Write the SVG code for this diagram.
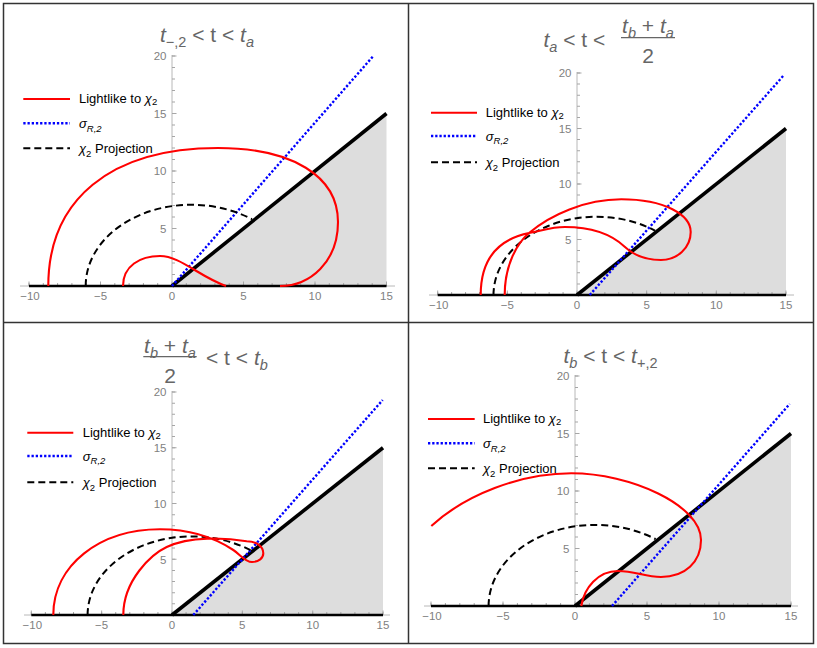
<svg xmlns="http://www.w3.org/2000/svg" width="817" height="648" viewBox="0 0 817 648">
<style>
.bg{fill:#fff}
.frame{fill:none;stroke:#333;stroke-width:1.5}
.shade{fill:#dddddd;stroke:none}
.axis{stroke:#b8b8b8;stroke-width:1;fill:none}
.tick{stroke:#a6a6a6;fill:none}
.bound{stroke:#000;stroke-width:3.6;fill:none}
.base{stroke:#000;stroke-width:2.5;fill:none}
.red{stroke:#ff0000;stroke-width:2.1;fill:none}
.blue{stroke:#0000ff;stroke-width:2.4;stroke-dasharray:2.3 1.9;fill:none}
.dash{stroke:#000;stroke-width:2;stroke-dasharray:7 4;fill:none}
.tl{font-family:"Liberation Sans",Arial,sans-serif;font-size:11.5px;fill:#7f7f7f}
.title{font-family:"Liberation Sans",Arial,sans-serif;font-size:21px;fill:#666}
.leg{font-family:"Liberation Sans",Arial,sans-serif;font-size:13px;fill:#000}
.it{font-style:italic}
.sub{font-size:14.5px}
.lsub{font-size:9.5px}
.bar{stroke:#666;stroke-width:1.3}
</style>
<rect class="bg" x="0" y="0" width="817" height="648"/>

<g id="panel1">
  <path class="shade" d="M172 286 L386.5 286 L386.5 113.5 Z"/>
  <line class="axis" x1="20" y1="286" x2="395" y2="286"/>
  <line class="axis" x1="172" y1="286" x2="172" y2="55"/>
  <path class="tick" stroke-width="3" stroke-dasharray="1 13.3" d="M28.5 284.5 H387"/>
  <path class="tick" stroke-width="4.5" stroke-dasharray="1 70.5" d="M28.5 283.75 H387"/>
  <path class="tick" stroke-width="3" stroke-dasharray="1 10.5" d="M173.5 286.5 V55.5"/>
  <path class="tick" stroke-width="4.5" stroke-dasharray="1 56.5" d="M174.25 286.5 V55.5"/>
  <g class="tl" text-anchor="middle">
    <text x="30" y="299.5">−10</text><text x="100.5" y="299.5">−5</text><text x="172" y="299.5">0</text>
    <text x="243.5" y="299.5">5</text><text x="315" y="299.5">10</text><text x="386.5" y="299.5">15</text>
  </g>
  <g class="tl" text-anchor="end">
    <text x="166.5" y="232.8">5</text><text x="166.5" y="175.3">10</text><text x="166.5" y="117.8">15</text><text x="166.5" y="60.3">20</text>
  </g>
  <path class="base" d="M29 286 H386.5"/>
  <path class="bound" d="M172 286 L386.5 113.5"/>
  <path class="blue" d="M172 286 L372.7 56.7"/>
  <path class="dash" d="M85.7 286 A105.8 81 0 0 1 252 219.3"/>
  <path class="red" d="M48.3 286 C48.3 200 110 148 218 148 C292 148 338 176 338 222 C338 262 310 286 280 286"/>
  <path class="red" d="M123 286 C123 266 140 256 160 256 C180 256 200 277 226 286"/>
  <text class="title" x="207" y="42" text-anchor="middle"><tspan class="it">t</tspan><tspan class="sub" dy="5">−,2</tspan><tspan dy="-5"> &lt; t &lt; </tspan><tspan class="it">t</tspan><tspan class="sub it" dy="5">a</tspan></text>
  <g id="legend1">
    <line class="red" x1="23.3" y1="99" x2="70" y2="99"/>
    <line class="blue" x1="23.3" y1="123.3" x2="70" y2="123.3"/>
    <line class="dash" x1="23.3" y1="148.3" x2="70" y2="148.3"/>
    <text class="leg" x="79" y="103">Lightlike to <tspan class="it">χ</tspan><tspan class="lsub" dy="2">2</tspan></text>
    <text class="leg" x="79" y="128"><tspan class="it">σ</tspan><tspan class="lsub it" dy="3.5">R,2</tspan></text>
    <text class="leg" x="79" y="153"><tspan class="it">χ</tspan><tspan class="lsub" dy="3.5">2</tspan><tspan dy="-3.5"> Projection</tspan></text>
  </g>
</g>

<g id="panel2">
  <path class="shade" d="M577 295 L786 295 L786 128.5 Z"/>
  <line class="axis" x1="429" y1="295" x2="794" y2="295"/>
  <line class="axis" x1="577" y1="295" x2="577" y2="72"/>
  <path class="tick" stroke-width="3" stroke-dasharray="1 12.93" d="M437.2 293.5 H786.5"/>
  <path class="tick" stroke-width="4.5" stroke-dasharray="1 68.65" d="M437.2 292.75 H786.5"/>
  <path class="tick" stroke-width="3" stroke-dasharray="1 10.1" d="M578.5 295.5 V72.5"/>
  <path class="tick" stroke-width="4.5" stroke-dasharray="1 54.5" d="M579.25 295.5 V72.5"/>
  <g class="tl" text-anchor="middle">
    <text x="438.7" y="308.5">−10</text><text x="507.3" y="308.5">−5</text><text x="577" y="308.5">0</text>
    <text x="646.6" y="308.5">5</text><text x="716.3" y="308.5">10</text><text x="786" y="308.5">15</text>
  </g>
  <g class="tl" text-anchor="end">
    <text x="571.5" y="243.8">5</text><text x="571.5" y="188.3">10</text><text x="571.5" y="132.8">15</text><text x="571.5" y="77.3">20</text>
  </g>
  <path class="base" d="M437.7 295 H786"/>
  <path class="bound" d="M577 295 L786 128.5"/>
  <path class="blue" d="M589.7 295 L784 75"/>
  <path class="dash" d="M493.5 295 A103 78.3 0 0 1 655 230.6"/>
  <path class="red" d="M480.7 295 C480.7 262 495 240 529 233 C546 229.5 552 227 565 227 C590 227 610 233 624.7 246.7 C634 255.5 645 260 661 260 C677 260 690.7 248 690.7 232 C690.7 215 665 199.3 621.3 199.3 C585 199.3 550 215 529 233 C517 243.3 504.7 265 504.7 295"/>
  <text class="title" x="543.5" y="47"><tspan class="it">t</tspan><tspan class="sub it" dy="5">a</tspan><tspan dy="-5"> &lt; t &lt;</tspan></text>
  <text class="title" x="648" y="33" text-anchor="middle"><tspan class="it">t</tspan><tspan class="sub it" dy="5">b</tspan><tspan dy="-5"> + </tspan><tspan class="it">t</tspan><tspan class="sub it" dy="5">a</tspan></text>
  <line class="bar" x1="621" y1="37.7" x2="675" y2="37.7"/>
  <text class="title" x="648" y="62.7" text-anchor="middle">2</text>
  <g id="legend2">
    <line class="red" x1="431" y1="112.7" x2="477" y2="112.7"/>
    <line class="blue" x1="431" y1="136" x2="477" y2="136"/>
    <line class="dash" x1="431" y1="162.3" x2="477" y2="162.3"/>
    <text class="leg" x="485.7" y="117">Lightlike to <tspan class="it">χ</tspan><tspan class="lsub" dy="2">2</tspan></text>
    <text class="leg" x="485.7" y="140.7"><tspan class="it">σ</tspan><tspan class="lsub it" dy="3.5">R,2</tspan></text>
    <text class="leg" x="485.7" y="167"><tspan class="it">χ</tspan><tspan class="lsub" dy="3.5">2</tspan><tspan dy="-3.5"> Projection</tspan></text>
  </g>
</g>

<g id="panel3">
  <path class="shade" d="M172 615 L383 615 L383 447.75 Z"/>
  <line class="axis" x1="24" y1="615" x2="390" y2="615"/>
  <line class="axis" x1="172" y1="615" x2="172" y2="391"/>
  <path class="tick" stroke-width="3" stroke-dasharray="1 13.07" d="M30.8 613.5 H383.5"/>
  <path class="tick" stroke-width="4.5" stroke-dasharray="1 69.35" d="M30.8 612.75 H383.5"/>
  <path class="tick" stroke-width="3" stroke-dasharray="1 10.15" d="M173.5 615.5 V391.5"/>
  <path class="tick" stroke-width="4.5" stroke-dasharray="1 54.75" d="M174.25 615.5 V391.5"/>
  <g class="tl" text-anchor="middle">
    <text x="32.3" y="628.5">−10</text><text x="101.6" y="628.5">−5</text><text x="172" y="628.5">0</text>
    <text x="242.3" y="628.5">5</text><text x="312.7" y="628.5">10</text><text x="383" y="628.5">15</text>
  </g>
  <g class="tl" text-anchor="end">
    <text x="166.5" y="563.6">5</text><text x="166.5" y="507.8">10</text><text x="166.5" y="452.1">15</text><text x="166.5" y="396.3">20</text>
  </g>
  <path class="base" d="M31.3 615 H383"/>
  <path class="bound" d="M172 615 L383 447.75"/>
  <path class="blue" d="M193.3 615 L382.7 400"/>
  <path class="dash" d="M87.6 615 A104.1 78.6 0 0 1 250.8 550.3"/>
  <path class="red" d="M53.3 615 C53.3 565 100 529.3 160 529.3 C190 529.3 215 538 233.3 550 C240.6 554.8 245 562 252 562 C259 562 263.3 558 263.3 553.3 C263.3 546 256 541.5 246.7 541.2 C225 537.5 190 536 166.7 547 C151.7 554 123.3 580 123.3 615"/>
  <text class="title" x="170" y="352.7" text-anchor="middle"><tspan class="it">t</tspan><tspan class="sub it" dy="5">b</tspan><tspan dy="-5"> + </tspan><tspan class="it">t</tspan><tspan class="sub it" dy="5">a</tspan></text>
  <line class="bar" x1="143.3" y1="356.7" x2="196.7" y2="356.7"/>
  <text class="title" x="170" y="382.7" text-anchor="middle">2</text>
  <text class="title" x="206" y="365">&lt; t &lt; <tspan class="it">t</tspan><tspan class="sub it" dy="5">b</tspan></text>
  <g id="legend3">
    <line class="red" x1="27.3" y1="432.7" x2="73.3" y2="432.7"/>
    <line class="blue" x1="27.3" y1="456" x2="73.3" y2="456"/>
    <line class="dash" x1="27.3" y1="482.3" x2="73.3" y2="482.3"/>
    <text class="leg" x="82.7" y="437">Lightlike to <tspan class="it">χ</tspan><tspan class="lsub" dy="2">2</tspan></text>
    <text class="leg" x="82.7" y="460.7"><tspan class="it">σ</tspan><tspan class="lsub it" dy="3.5">R,2</tspan></text>
    <text class="leg" x="82.7" y="487"><tspan class="it">χ</tspan><tspan class="lsub" dy="3.5">2</tspan><tspan dy="-3.5"> Projection</tspan></text>
  </g>
</g>

<g id="panel4">
  <path class="shade" d="M575 606 L791 606 L791 433.5 Z"/>
  <line class="axis" x1="424" y1="606" x2="798" y2="606"/>
  <line class="axis" x1="575" y1="606" x2="575" y2="375"/>
  <path class="tick" stroke-width="3" stroke-dasharray="1 13.4" d="M430.5 604.5 H791.5"/>
  <path class="tick" stroke-width="4.5" stroke-dasharray="1 71" d="M430.5 603.75 H791.5"/>
  <path class="tick" stroke-width="3" stroke-dasharray="1 10.5" d="M576.5 606.5 V375.5"/>
  <path class="tick" stroke-width="4.5" stroke-dasharray="1 56.5" d="M577.25 606.5 V375.5"/>
  <g class="tl" text-anchor="middle">
    <text x="432" y="619.5">−10</text><text x="503" y="619.5">−5</text><text x="575" y="619.5">0</text>
    <text x="647" y="619.5">5</text><text x="719" y="619.5">10</text><text x="791" y="619.5">15</text>
  </g>
  <g class="tl" text-anchor="end">
    <text x="569.5" y="552.8">5</text><text x="569.5" y="495.3">10</text><text x="569.5" y="437.8">15</text><text x="569.5" y="380.3">20</text>
  </g>
  <path class="base" d="M431 606 H791"/>
  <path class="bound" d="M575 606 L791 433.5"/>
  <path class="blue" d="M612 606 L789.7 404"/>
  <path class="dash" d="M488.6 606 A106.6 81.1 0 0 1 655.6 539.2"/>
  <path class="red" d="M581.3 606 C584 588 598 571 618 571 C635 571 645 577 661 577 C685 577 701 562 701 540 C701 505 630 473.3 571.3 473.3 C520 473.3 465 495 431.3 526"/>
  <text class="title" x="610.5" y="363.3" text-anchor="middle"><tspan class="it">t</tspan><tspan class="sub it" dy="5">b</tspan><tspan dy="-5"> &lt; t &lt; </tspan><tspan class="it">t</tspan><tspan class="sub" dy="5">+,2</tspan></text>
  <g id="legend4">
    <line class="red" x1="428" y1="419" x2="474.7" y2="419"/>
    <line class="blue" x1="428" y1="443.3" x2="474.7" y2="443.3"/>
    <line class="dash" x1="428" y1="468.3" x2="474.7" y2="468.3"/>
    <text class="leg" x="483" y="423">Lightlike to <tspan class="it">χ</tspan><tspan class="lsub" dy="2">2</tspan></text>
    <text class="leg" x="483" y="448"><tspan class="it">σ</tspan><tspan class="lsub it" dy="3.5">R,2</tspan></text>
    <text class="leg" x="483" y="473"><tspan class="it">χ</tspan><tspan class="lsub" dy="3.5">2</tspan><tspan dy="-3.5"> Projection</tspan></text>
  </g>
</g>

<g id="frames">
  <rect class="frame" x="3.5" y="3.5" width="810" height="640"/>
  <line class="frame" x1="408.5" y1="3.5" x2="408.5" y2="643.5"/>
  <line class="frame" stroke-width="2" x1="3.5" y1="322.5" x2="813.5" y2="322.5"/>
</g>
</svg>
